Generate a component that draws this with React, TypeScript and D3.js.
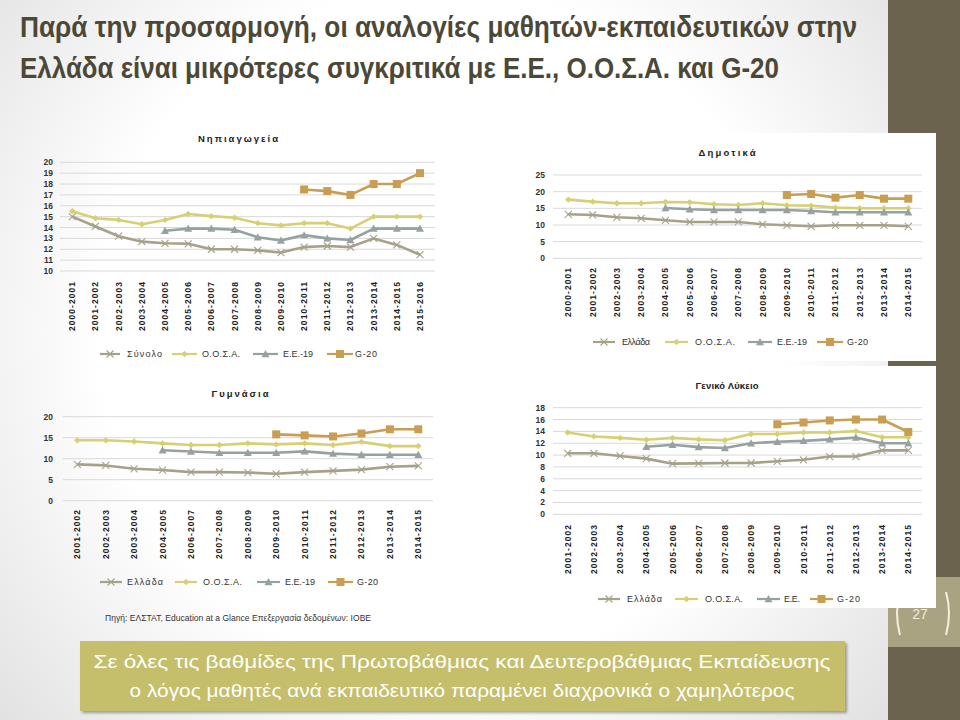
import React from 'react';
import * as d3 from 'd3';

// ---------- DATA ----------
const nipYears = ['2000-2001','2001-2002','2002-2003','2003-2004','2004-2005','2005-2006','2006-2007','2007-2008','2008-2009','2009-2010','2010-2011','2011-2012','2012-2013','2013-2014','2014-2015','2015-2016'];
const nipTotal = [15.0,14.1,13.2,12.7,12.55,12.5,12.0,12.0,11.9,11.7,12.2,12.3,12.2,13.0,12.4,11.5];
const nipOecd = [15.5,14.85,14.7,14.3,14.7,15.25,15.05,14.9,14.4,14.2,14.4,14.4,13.9,15.0,15.0,15.0];
const nipEu = [null,null,null,null,13.7,13.9,13.9,13.8,13.1,12.8,13.3,13.0,12.85,13.9,13.9,13.9];
const nipG20 = [null,null,null,null,null,null,null,null,null,null,17.5,17.35,17.0,18.0,18.0,19.0];

const dimYears = ['2000-2001','2001-2002','2002-2003','2003-2004','2004-2005','2005-2006','2006-2007','2007-2008','2008-2009','2009-2010','2010-2011','2011-2012','2012-2013','2013-2014','2014-2015'];
const dimGr = [13.2,13.0,12.3,12.0,11.4,10.9,10.9,10.9,10.2,9.9,9.6,9.9,9.9,9.9,9.6];
const dimOecd = [17.6,17.0,16.5,16.5,16.9,16.8,16.2,16.0,16.5,15.9,15.8,15.2,15.0,15.0,15.0];
const dimEu = [null,null,null,null,15.1,14.7,14.5,14.5,14.5,14.5,14.2,13.8,13.8,13.8,13.8];
const dimG20 = [null,null,null,null,null,null,null,null,null,19.0,19.3,18.2,19.0,17.9,17.9];

const gymYears = ['2001-2002','2002-2003','2003-2004','2004-2005','2006-2007','2007-2008','2008-2009','2009-2010','2010-2011','2011-2012','2012-2013','2013-2014','2014-2015'];
const gymGr = [8.65,8.4,7.6,7.3,6.8,6.8,6.7,6.4,6.8,7.1,7.4,8.1,8.3];
const gymOecd = [14.4,14.4,14.1,13.65,13.25,13.25,13.65,13.4,13.65,13.25,14.0,13.0,13.0];
const gymEu = [null,null,null,12.0,11.7,11.4,11.4,11.4,11.75,11.2,10.95,10.95,10.95];
const gymG20 = [null,null,null,null,null,null,null,15.8,15.55,15.3,16.0,17.0,17.0];

const lykYears = ['2001-2002','2002-2003','2003-2004','2004-2005','2005-2006','2006-2007','2007-2008','2008-2009','2009-2010','2010-2011','2011-2012','2012-2013','2013-2014','2014-2015'];
const lykGr = [10.3,10.3,9.85,9.4,8.55,8.6,8.66,8.66,8.95,9.2,9.75,9.75,10.8,10.8];
const lykOecd = [13.8,13.15,12.9,12.6,12.9,12.65,12.5,13.55,13.55,13.8,13.8,14.05,13.0,13.0];
const lykEu = [null,null,null,11.4,11.75,11.35,11.2,12.0,12.25,12.4,12.65,12.95,12.0,12.0];
const lykG20 = [null,null,null,null,null,null,null,null,15.2,15.5,15.85,16.0,16.0,13.9];

const nipTicks = [10,11,12,13,14,15,16,17,18,19,20];
const dimTicks = [0,5,10,15,20,25];
const gymTicks = [0,5,10,15,20];
const lykTicks = [0,2,4,6,8,10,12,14,16,18];

const nipLegend = ['Σύνολο','Ο.Ο.Σ.Α.','Ε.Ε.-19','G-20'];
const dimLegend = ['Ελλάδα','Ο.Ο.Σ.Α.','Ε.Ε.-19','G-20'];
const gymLegend = ['Ελλάδα','Ο.Ο.Σ.Α.','Ε.Ε.-19','G-20'];
const lykLegend = ['Ελλάδα','Ο.Ο.Σ.Α.','Ε.Ε.','G-20'];

const titleLine1 = 'Παρά την προσαρμογή, οι αναλογίες μαθητών-εκπαιδευτικών στην';
const titleLine2 = 'Ελλάδα είναι μικρότερες συγκριτικά με Ε.Ε., Ο.Ο.Σ.Α. και G-20';
const boxLine1 = 'Σε όλες τις βαθμίδες της Πρωτοβάθμιας και Δευτεροβάθμιας Εκπαίδευσης';
const boxLine2 = 'ο λόγος μαθητές ανά εκπαιδευτικό παραμένει διαχρονικά ο χαμηλότερος';
const sourceText = 'Πηγή: ΕΛΣΤΑΤ, Education at a Glance Επεξεργασία δεδομένων: ΙΟΒΕ';

// ---------- STYLE ----------
const COLORS = ['#A6A189', '#D6D072', '#96A29F', '#C99D52'];
const MARKERS = ['cross', 'diamond', 'triangle', 'square'];
const FONT = "'Liberation Sans', Arial, sans-serif";
const NARROW = "'Liberation Sans Narrow', 'Liberation Sans', Arial, sans-serif";

type ChartCfg = {
  title: string; titleX: number; titleY: number; titleW: number;
  cats: string[]; series: (number | null)[][]; legend: string[];
  ticks: number[]; yTop: number; yBot: number;
  xFirst: number; xLast: number; gx0: number; gx1: number;
  tickX: number; catTop: number; legY: number;
  legLines: [number, number][]; legText: number[]; legTextW: number[];
  bg?: [number, number, number, number];
};

function Marker({ type, x, y, color }: { type: string; x: number; y: number; color: string }) {
  if (type === 'cross') {
    const s = 3.5;
    return (
      <g stroke={color} strokeWidth={1.1}>
        <line x1={x - s} y1={y - s} x2={x + s} y2={y + s} />
        <line x1={x - s} y1={y + s} x2={x + s} y2={y - s} />
      </g>
    );
  }
  if (type === 'diamond') {
    const s = 3.2;
    return <path d={`M${x},${y - s}L${x + s},${y}L${x},${y + s}L${x - s},${y}Z`} fill={color} />;
  }
  if (type === 'triangle') {
    const s = 4;
    return <path d={`M${x},${y - s}L${x + s},${y + s * 0.8}L${x - s},${y + s * 0.8}Z`} fill={color} />;
  }
  return <rect x={x - 4} y={y - 4} width={8} height={8} fill={color} />;
}

function Chart({ c }: { c: ChartCfg }) {
  const x = d3.scalePoint<string>().domain(c.cats).range([c.xFirst, c.xLast]);
  const y = d3.scaleLinear().domain([c.ticks[0], c.ticks[c.ticks.length - 1]]).range([c.yBot, c.yTop]);
  const line = d3.line<number | null>()
    .defined((d) => d != null)
    .x((_, i) => x(c.cats[i]) as number)
    .y((d) => y(d as number));
  return (
    <g>
      {c.bg && <rect x={c.bg[0]} y={c.bg[1]} width={c.bg[2]} height={c.bg[3]} fill="#fff" />}
      <text x={c.titleX} y={c.titleY} textAnchor="middle" fontFamily={FONT} fontWeight="bold" fontSize={9.5}
        fill="#222" textLength={c.titleW} lengthAdjust="spacing">{c.title}</text>
      {c.ticks.map((t) => (
        <g key={t}>
          <line x1={c.gx0} x2={c.gx1} y1={y(t)} y2={y(t)} stroke="#D9D9D9" strokeWidth={1} />
          <text x={c.tickX} y={y(t) + 3} textAnchor="end" fontFamily={FONT} fontWeight="bold" fontSize={8.5} fill="#333">{t}</text>
        </g>
      ))}
      {c.cats.map((cat) => (
        <text key={cat} transform={`translate(${(x(cat) as number) + 3},${c.catTop}) rotate(-90)`}
          textAnchor="end" fontFamily={FONT} fontWeight="bold" fontSize={8.5} fill="#222"
          textLength={49} lengthAdjust="spacing">{cat}</text>
      ))}
      {c.series.map((s, si) => (
        <g key={si}>
          <path d={line(s) || ''} fill="none" stroke={COLORS[si]} strokeWidth={2.6} strokeLinejoin="round" />
          {s.map((v, i) => v == null ? null : (
            <Marker key={i} type={MARKERS[si]} x={x(c.cats[i]) as number} y={y(v)} color={COLORS[si]} />
          ))}
        </g>
      ))}
      {c.legend.map((name, i) => {
        const [a, b] = c.legLines[i];
        return (
          <g key={name}>
            <line x1={a} x2={b} y1={c.legY} y2={c.legY} stroke={COLORS[i]} strokeWidth={2.2} />
            <Marker type={MARKERS[i]} x={(a + b) / 2} y={c.legY} color={COLORS[i]} />
            <text x={c.legText[i]} y={c.legY + 3.2} fontFamily={FONT} fontSize={9} fill="#333"
              textLength={c.legTextW[i]} lengthAdjust="spacing">{name}</text>
          </g>
        );
      })}
    </g>
  );
}

const charts: ChartCfg[] = [
  {
    title: 'Νηπιαγωγεία', titleX: 238, titleY: 142, titleW: 80,
    cats: nipYears, series: [nipTotal, nipOecd, nipEu, nipG20], legend: nipLegend,
    ticks: nipTicks, yTop: 162.3, yBot: 271, xFirst: 72.3, xLast: 420, gx0: 60, gx1: 435,
    tickX: 53, catTop: 282, legY: 354,
    legLines: [[100, 120], [172, 197], [253, 278], [327, 353]], legText: [127, 202, 283, 355], legTextW: [35, 38, 30, 22],
  },
  {
    title: 'Δημοτικά', titleX: 727, titleY: 156, titleW: 57,
    cats: dimYears, series: [dimGr, dimOecd, dimEu, dimG20], legend: dimLegend,
    ticks: dimTicks, yTop: 175, yBot: 258.3, xFirst: 568.3, xLast: 908.3, gx0: 553, gx1: 922,
    tickX: 545, catTop: 268, legY: 342,
    legLines: [[593, 615], [665, 688], [748, 772], [817, 843]], legText: [622, 695, 777, 847], legTextW: [28, 40, 30, 21],
    bg: [495, 133, 441, 228],
  },
  {
    title: 'Γυμνάσια', titleX: 240, titleY: 397, titleW: 57,
    cats: gymYears, series: [gymGr, gymOecd, gymEu, gymG20], legend: gymLegend,
    ticks: gymTicks, yTop: 416.7, yBot: 500.7, xFirst: 77.3, xLast: 418.3, gx0: 63, gx1: 433,
    tickX: 53, catTop: 510, legY: 582,
    legLines: [[100, 122], [175, 197], [257, 280], [328, 353]], legText: [127, 203, 285, 357], legTextW: [36, 39, 30, 21],
  },
  {
    title: 'Γενικό Λύκειο', titleX: 727, titleY: 389, titleW: 63,
    cats: lykYears, series: [lykGr, lykOecd, lykEu, lykG20], legend: lykLegend,
    ticks: lykTicks, yTop: 407.7, yBot: 514.3, xFirst: 567.7, xLast: 908.3, gx0: 553, gx1: 922,
    tickX: 545, catTop: 525, legY: 599,
    legLines: [[598, 620], [675, 698], [757, 780], [810, 833]], legText: [627, 705, 784, 837], legTextW: [35, 38, 16, 23],
    bg: [495, 366, 441, 242],
  },
];

export default function App() {
  return (
    <svg width={960} height={720} style={{ position: 'absolute', left: 0, top: 0 }}>
      <defs>
        <radialGradient id="vig" cx={440} cy={330} r={620} gradientUnits="userSpaceOnUse">
          <stop offset="0.55" stopColor="#ffffff" />
          <stop offset="1" stopColor="#DEDEDE" />
        </radialGradient>
        <filter id="shadow" x="-5%" y="-20%" width="110%" height="150%">
          <feDropShadow dx="2" dy="2" stdDeviation="1.5" floodColor="#000" floodOpacity="0.35" />
        </filter>
      </defs>
      <rect x={0} y={0} width={960} height={720} fill="url(#vig)" />
      <rect x={888} y={0} width={72} height={720} fill="#6B634E" />
      <rect x={888} y={577} width={72} height={70} fill="#A9A382" />
      <text x={920} y={619} textAnchor="middle" fontFamily={FONT} fontSize={14} fill="#F2EDD8">27</text>
      <path d="M900,592 Q894,613 900,635" fill="none" stroke="#F5F0DC" strokeWidth={2} />
      <path d="M946,592 Q952,613 946,635" fill="none" stroke="#F5F0DC" strokeWidth={2} />

      <text x={20} y={37} fontFamily={NARROW} fontWeight="bold" fontSize={29} fill="#4C4838"
        textLength={837} lengthAdjust="spacingAndGlyphs">{titleLine1}</text>
      <text x={20} y={78} fontFamily={NARROW} fontWeight="bold" fontSize={29} fill="#4C4838"
        textLength={759} lengthAdjust="spacingAndGlyphs">{titleLine2}</text>

      {charts.map((c) => <Chart key={c.title} c={c} />)}

      <text x={105} y={621} fontFamily={FONT} fontSize={8.5} fill="#333" textLength={266} lengthAdjust="spacing">{sourceText}</text>

      <rect x={80} y={641} width={765} height={70} fill="#C5BE6A" filter="url(#shadow)" />
      <text x={462} y={668} textAnchor="middle" fontFamily={NARROW} fontSize={19} fill="#ffffff"
        textLength={737} lengthAdjust="spacingAndGlyphs">{boxLine1}</text>
      <text x={462} y={697} textAnchor="middle" fontFamily={NARROW} fontSize={19} fill="#ffffff"
        textLength={665} lengthAdjust="spacingAndGlyphs">{boxLine2}</text>
    </svg>
  );
}
